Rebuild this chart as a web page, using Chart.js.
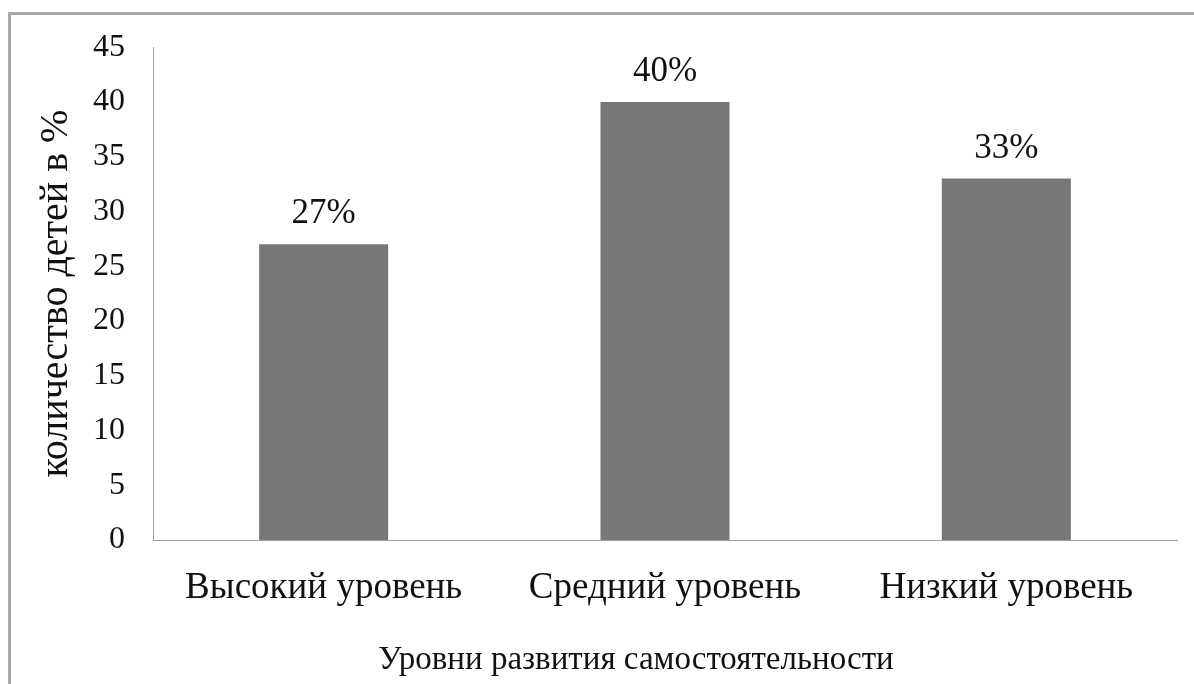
<!DOCTYPE html>
<html>
<head>
<meta charset="utf-8">
<script src="https://cdn.jsdelivr.net/npm/chart.js@4"></script>
<style>
    html, body { margin: 0; padding: 0; background: #fff; overflow: hidden; }
    #wrap { position: relative; width: 1194px; height: 684px; }
    #frame { position: absolute; left: 8px; top: 12px; width: 1200px; height: 700px; border: 3px solid #a8a8a8; }
    canvas { position: absolute; left: 0; top: 0; }
</style>
</head>
<body>
<div id="wrap">
    <div id="frame"></div>
    <canvas id="levelsChart" width="1194" height="684"></canvas>
</div>
<script>
const categories = ['Высокий уровень', 'Средний уровень', 'Низкий уровень'];
const values = [27, 40, 33];
const valueLabels = ['27%', '40%', '33%'];
const yTicks = [0, 5, 10, 15, 20, 25, 30, 35, 40, 45];
const xTitle = 'Уровни развития самостоятельности';

const serif = '"Liberation Serif", "Times New Roman", serif';

// percentage text above each bar, plus the x axis title
// (the original centres that title on the whole chart, not on the plot area)
const barLabels = {
    id: 'barLabels',
    afterDatasetsDraw(chart) {
        const ctx = chart.ctx;
        const meta = chart.getDatasetMeta(0);
        ctx.save();
        ctx.font = '35px ' + serif;
        ctx.fillStyle = '#111';
        ctx.textAlign = 'center';
        ctx.textBaseline = 'alphabetic';
        meta.data.forEach((bar, i) => {
            ctx.fillText(valueLabels[i], bar.x, bar.y - 21);
        });
        ctx.font = '33px ' + serif;
        ctx.fillText(xTitle, chart.width / 2 + 39, chart.height - 15);
        ctx.restore();
    }
};

document.addEventListener('DOMContentLoaded', () => {
    const ctx = document.getElementById('levelsChart').getContext('2d');
    new Chart(ctx, {
        type: 'bar',
        data: {
            labels: categories,
            datasets: [{
                data: values,
                backgroundColor: '#777777',
                borderWidth: 0,
                barPercentage: 0.378,
                categoryPercentage: 1
            }]
        },
        options: {
            responsive: false,
            animation: false,
            layout: {
                padding: { top: 44, right: 17, left: 0, bottom: 0 }
            },
            plugins: {
                legend: { display: false },
                tooltip: { enabled: false }
            },
            scales: {
                x: {
                    grid: { display: false, drawTicks: false },
                    border: { display: true, color: '#a0a0a0', width: 1 },
                    ticks: {
                        color: '#111',
                        padding: 26,
                        maxRotation: 0,
                        font: { family: serif, size: 37 }
                    },
                    afterFit(scale) { scale.height = 144; }
                },
                y: {
                    min: 0,
                    max: 45,
                    afterBuildTicks(scale) {
                        scale.ticks = yTicks.map(v => ({ value: v }));
                    },
                    grid: { display: false, drawTicks: false },
                    border: { display: true, color: '#a0a0a0', width: 1 },
                    ticks: {
                        color: '#111',
                        padding: 28,
                        font: { family: serif, size: 32 }
                    },
                    title: {
                        display: true,
                        text: 'количество детей в %',
                        color: '#111',
                        padding: { top: 32, bottom: 0 },
                        font: { family: serif, size: 40 }
                    },
                    afterFit(scale) { scale.width = 153; }
                }
            }
        },
        plugins: [barLabels]
    });
});
</script>
</body>
</html>
